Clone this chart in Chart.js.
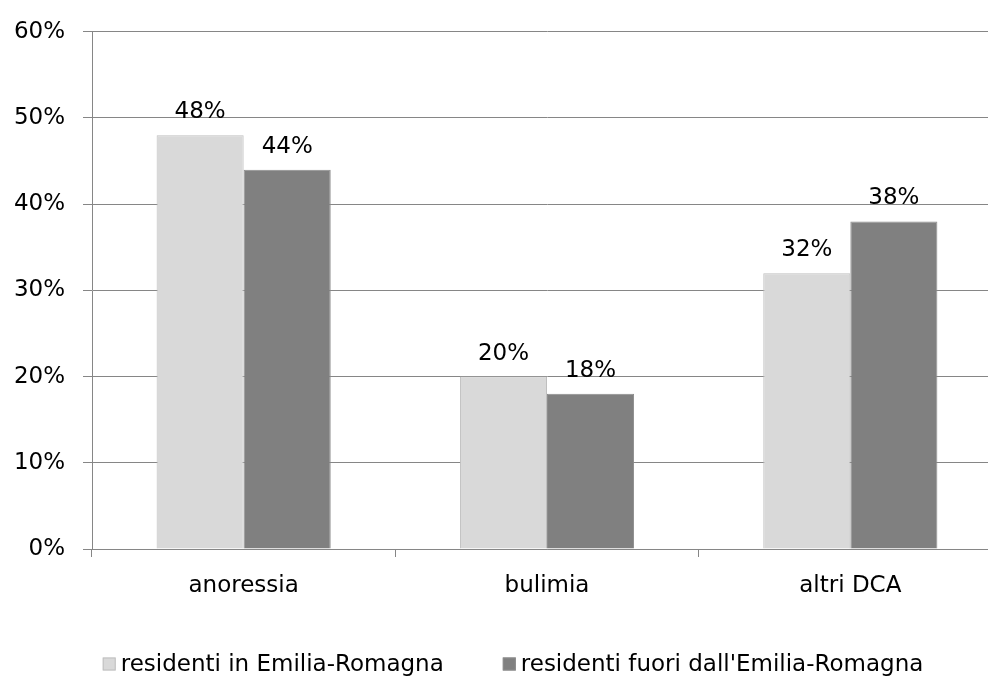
<!DOCTYPE html>
<html>
<head>
<meta charset="utf-8">
<script src="https://cdn.jsdelivr.net/npm/chart.js@4"></script>
<style>
  html, body { margin: 0; padding: 0; background: #fff; overflow: hidden; }
  #clip { width: 988px; height: 677px; overflow: hidden; position: relative; }
  /* il grafico originale è tagliato a destra: l'area continua oltre i 988px */
  #wrap { position: absolute; left: 0; top: 0; width: 1002px; height: 677px; }
</style>
</head>
<body>
<div id="clip"><div id="wrap"><canvas id="chart"></canvas></div></div>
<script>
// dati
var categorie = ['anoressia', 'bulimia', 'altri DCA'];
var residentiER = [48, 20, 32];
var residentiFuoriER = [44, 18, 38];
var etichetteY = [0, 10, 20, 30, 40, 50, 60];

var FONT = "'DejaVu Sans', Verdana, sans-serif";
Chart.defaults.font.family = FONT;
Chart.defaults.font.size = 23;
Chart.defaults.color = '#000';

// etichette dei valori sopra le barre
var valoriPlugin = {
    id: 'valori',
    afterDatasetsDraw: function (chart) {
        var ctx = chart.ctx;
        ctx.save();
        ctx.font = '23px ' + FONT;
        ctx.fillStyle = '#000';
        ctx.textAlign = 'center';
        ctx.textBaseline = 'alphabetic';
        chart.data.datasets.forEach(function (ds, i) {
            chart.getDatasetMeta(i).data.forEach(function (bar, j) {
                ctx.fillText(ds.data[j] + '%', bar.x, bar.y - 17);
            });
        });
        ctx.restore();
    }
};

// legenda in basso, disegnata a mano per avere gli stessi spazi dell'originale
var legendaPlugin = {
    id: 'legenda',
    afterDraw: function (chart) {
        var ctx = chart.ctx;
        var box = 13, gapTesto = 5, gapVoci = 59, yMid = 664, centro = 513;
        ctx.save();
        ctx.font = '23px ' + FONT;
        ctx.textBaseline = 'middle';
        ctx.textAlign = 'left';
        var voci = chart.data.datasets.map(function (ds) {
            return { testo: ds.label, colore: ds.backgroundColor, bordo: ds.borderColor,
                     w: ctx.measureText(ds.label).width };
        });
        var totale = 0;
        voci.forEach(function (v, i) {
            totale += box + gapTesto + v.w + (i > 0 ? gapVoci : 0);
        });
        var x = centro - totale / 2;
        voci.forEach(function (v) {
            ctx.fillStyle = v.colore;
            ctx.fillRect(x, yMid - box / 2, box, box);
            ctx.strokeStyle = v.bordo;
            ctx.lineWidth = 1;
            ctx.strokeRect(x + 0.5, yMid - box / 2 + 0.5, box - 1, box - 1);
            ctx.fillStyle = '#000';
            ctx.fillText(v.testo, x + box + gapTesto, yMid + 1);
            x += box + gapTesto + v.w + gapVoci;
        });
        ctx.restore();
    }
};

var ctx = document.getElementById('chart').getContext('2d');
var grafico = new Chart(ctx, {
    type: 'bar',
    data: {
        labels: categorie,
        datasets: [{
            label: 'residenti in Emilia-Romagna',
            data: residentiER,
            backgroundColor: '#d9d9d9',
            borderColor: '#bfbfbf',
            borderWidth: 1,
            borderSkipped: 'bottom'
        }, {
            label: "residenti fuori dall'Emilia-Romagna",
            data: residentiFuoriER,
            backgroundColor: '#808080',
            borderColor: '#8c8c8c',
            borderWidth: 1,
            borderSkipped: 'bottom'
        }]
    },
    options: {
        responsive: true,
        maintainAspectRatio: false,
        animation: false,
        layout: { padding: { top: 24, right: 0, left: 0, bottom: 0 } },
        categoryPercentage: 0.574,
        barPercentage: 1.0,
        plugins: {
            tooltip: { enabled: false },
            legend: { display: false }
        },
        scales: {
            x: {
                grid: {
                    offset: true,
                    drawOnChartArea: false,
                    drawTicks: true,
                    tickLength: 8,
                    color: '#868686'
                },
                border: { color: '#868686' },
                ticks: { padding: 15 },
                afterFit: function (scale) { scale.height = 128; }
            },
            y: {
                min: 0,
                max: 60,
                afterBuildTicks: function (scale) {
                    scale.ticks = etichetteY.map(function (v) { return { value: v }; });
                },
                ticks: {
                    padding: 18,
                    callback: function (v) { return v + '%'; }
                },
                grid: { color: '#868686', tickLength: 9 },
                border: { color: '#868686' },
                afterFit: function (scale) { scale.width = 92; }
            }
        }
    },
    plugins: [valoriPlugin, legendaPlugin]
});
</script>
</body>
</html>
